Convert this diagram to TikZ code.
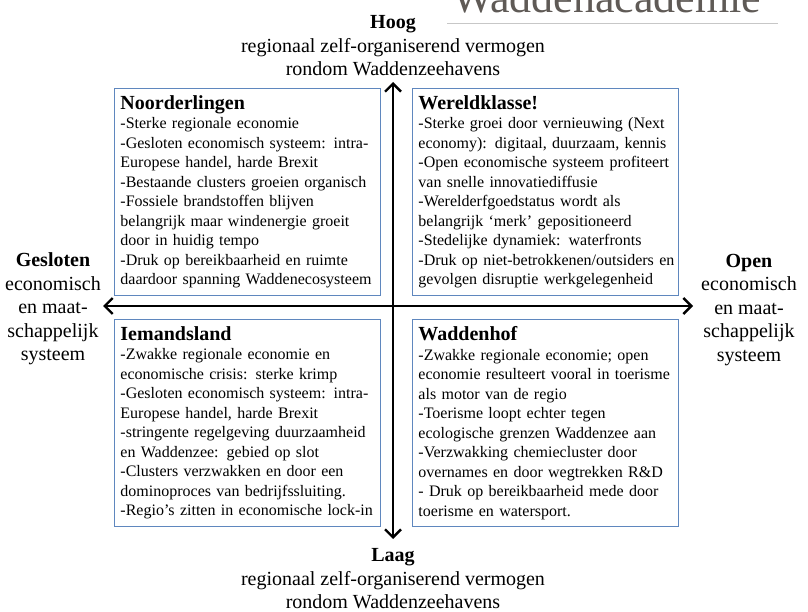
\documentclass[tikz,border=0pt]{standalone}
\usepackage{fontspec}
\setmainfont{Liberation Serif}
\usetikzlibrary{arrows.meta}
\definecolor{kader}{RGB}{95,135,190}
\definecolor{logogrijs}{RGB}{95,90,86}
\newcommand{\Kop}[1]{{\fontsize{20}{24}\selectfont\bfseries #1}}
\tikzset{
  Kwadrant/.style = { draw = kader, line width = 0.9pt, anchor = north west,
                      text width = 254pt, inner xsep = 6pt, inner ysep = 6pt,
                      minimum height = 207pt, align = left,
                      font = \fontsize{16}{19.5}\selectfont },
  AsLabel/.style  = { align = center, inner sep = 0pt,
                      font = \fontsize{20}{23.5}\selectfont },
  AsPijl/.style   = { line width = 2.4pt,
                      {Straight Barb[length=8pt,width=16pt]}-{Straight Barb[length=8pt,width=16pt]} } }

\begin{document}
\begin{tikzpicture}[x=1pt,y=-1pt]
  \useasboundingbox (0,0) rectangle (808,612);
  % kop rechtsboven, valt half buiten beeld
  \node[anchor=base west, inner sep=0pt, text=logogrijs,
        font=\fontsize{44}{44}\selectfont] (Logo) at (452,13) {Waddenacademie};
  \coordinate (LijnA) at (447,23);
  \coordinate (LijnB) at (778,23);
  \draw[black!22, line width=0.8pt] (LijnA) -- (LijnB);

  \node[Kwadrant] (Noord) at (114,88) {\Kop{Noorderlingen}\\
    -Sterke regionale economie\\
    -Gesloten economisch systeem: intra-\\
    Europese handel, harde Brexit\\
    -Bestaande clusters groeien organisch\\
    -Fossiele brandstoffen blijven\\
    belangrijk maar windenergie groeit\\
    door in huidig tempo\\
    -Druk op bereikbaarheid en ruimte\\
    daardoor spanning Waddenecosysteem};
  \node[Kwadrant] (Wereld) at (412,88) {\Kop{Wereldklasse!}\\
    -Sterke groei door vernieuwing (Next\\
    economy): digitaal, duurzaam, kennis\\
    -Open economische systeem profiteert\\
    van snelle innovatiediffusie\\
    -Werelderfgoedstatus wordt als\\
    belangrijk ‘merk’ gepositioneerd\\
    -Stedelijke dynamiek: waterfronts\\
    \mbox{-Druk op niet-betrokkenen/outsiders en}\\
    gevolgen disruptie werkgelegenheid};
  \node[Kwadrant] (Iemand) at (114,319) {\Kop{Iemandsland}\\
    -Zwakke regionale economie en\\
    economische crisis: sterke krimp\\
    -Gesloten economisch systeem: intra-\\
    Europese handel, harde Brexit\\
    -stringente regelgeving duurzaamheid\\
    en Waddenzee: gebied op slot\\
    -Clusters verzwakken en door een\\
    dominoproces van bedrijfssluiting.\\
    -Regio’s zitten in economische lock-in};
  \node[Kwadrant] (Hof) at (412,319) {\Kop{Waddenhof}\\
    -Zwakke regionale economie; open\\
    economie resulteert vooral in toerisme\\
    als motor van de regio\\
    -Toerisme loopt echter tegen\\
    ecologische grenzen Waddenzee aan\\
    -Verzwakking chemiecluster door\\
    overnames en door wegtrekken R\&D\\
    - Druk op bereikbaarheid mede door\\
    toerisme en watersport.};

  \node[AsLabel] (Hoog) at (393,46) {\textbf{Hoog}\\
    regionaal zelf-organiserend vermogen\\ rondom Waddenzeehavens};
  \node[AsLabel] (Laag) at (393,579) {\textbf{Laag}\\
    regionaal zelf-organiserend vermogen\\ rondom Waddenzeehavens};
  \node[AsLabel] (Gesloten) at (53,309) {\textbf{Gesloten}\\
    economisch\\ en maat-\\ schappelijk\\ systeem};
  \node[AsLabel] (Open) at (749,310) {\textbf{Open}\\
    economisch\\ en maat-\\ schappelijk\\ systeem};

  \coordinate (Boven)  at (393,82);
  \coordinate (Onder)  at (393,539);
  \coordinate (Links)  at (103,306);
  \coordinate (Rechts) at (693,306);
  \draw[AsPijl] (Onder) -- (Boven);
  \draw[AsPijl] (Links) -- (Rechts);
\end{tikzpicture}
\end{document}
